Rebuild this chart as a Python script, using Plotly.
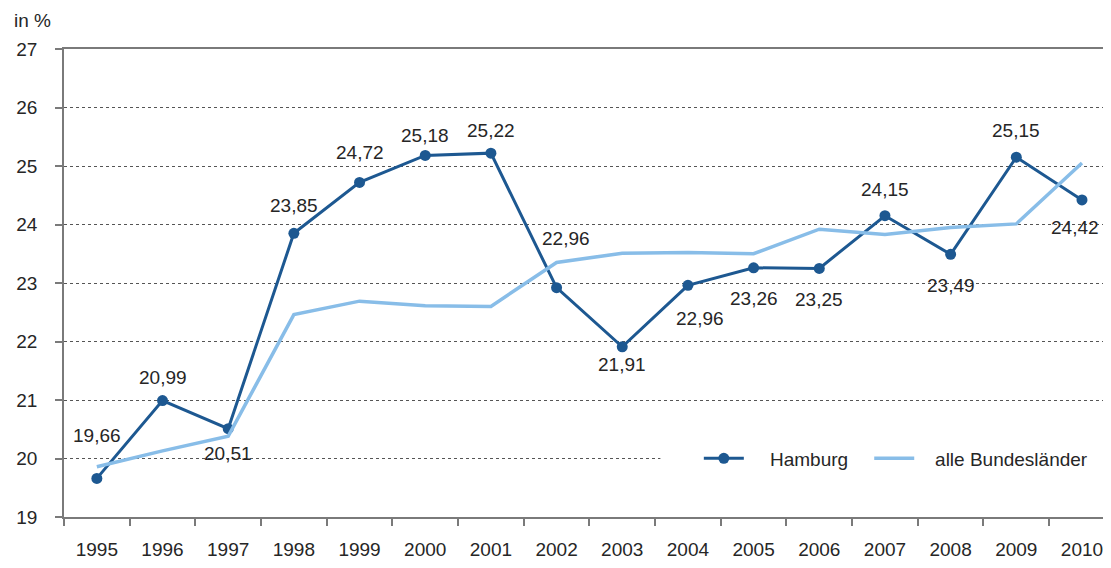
import plotly.graph_objects as go

years = ["1995", "1996", "1997", "1998", "1999", "2000", "2001", "2002",
         "2003", "2004", "2005", "2006", "2007", "2008", "2009", "2010"]
hamburg = [19.66, 20.99, 20.51, 23.85, 24.72, 25.18, 25.22, 22.92,
           21.91, 22.96, 23.26, 23.25, 24.15, 23.49, 25.15, 24.42]
hamburg_labels = ["19,66", "20,99", "20,51", "23,85", "24,72", "25,18", "25,22", "22,96",
                  "21,91", "22,96", "23,26", "23,25", "24,15", "23,49", "25,15", "24,42"]
alle = [19.86, 20.13, 20.38, 22.46, 22.69, 22.61, 22.60, 23.35,
        23.51, 23.52, 23.50, 23.92, 23.83, 23.95, 24.01, 25.05]
y_ticks = [19, 20, 21, 22, 23, 24, 25, 26, 27]

# label offsets in pixels (xshift, yshift)
offsets = [(0, 43), (0, 23), (0, -25), (0, 28), (0, 30), (0, 20), (0, 23), (9, 49),
           (0, -18), (12, -33), (0, -31), (0, -31), (0, 26), (0, -31), (0, 27), (-7, -28)]

DARK = "#1d5891"
LIGHT = "#88bde8"
TXT = "#262626"
FONT = "Liberation Sans, Arial, sans-serif"
FS = 19

fig = go.Figure()
fig.add_trace(go.Scatter(x=years, y=hamburg, name="\u00a0" * 4 + "Hamburg", mode="lines+markers",
                         line=dict(color=DARK, width=3), marker=dict(size=11, color=DARK),
                         legend="legend"))
fig.add_trace(go.Scatter(x=years, y=alle, name="\u00a0" * 3 + "alle Bundesländer", mode="lines",
                         line=dict(color=LIGHT, width=3.5), legend="legend2"))

for i, (v, t, (dx, dy)) in enumerate(zip(hamburg, hamburg_labels, offsets)):
    fig.add_annotation(x=i, y=v, text=t, showarrow=False, xshift=dx, yshift=dy,
                       font=dict(size=FS, color=TXT, family=FONT))

fig.add_annotation(x=0, y=1, xref="paper", yref="paper", xanchor="left", yanchor="middle",
                   xshift=-52, yshift=29, text="in %", showarrow=False,
                   font=dict(size=FS, color=TXT, family=FONT))

# white band behind the legend covering the gridline
fig.add_shape(type="rect", xref="paper", yref="y", x0=0.574, x1=1, y0=19.75, y1=20.25,
              fillcolor="white", line=dict(width=0), layer="above")

leg_common = dict(orientation="h", y=0.125, xanchor="left", yanchor="middle",
                  bgcolor="rgba(0,0,0,0)", font=dict(size=FS, color=TXT), itemwidth=40)

fig.update_layout(
    width=1095, height=552,
    margin=dict(l=56, r=0, t=41, b=39),
    paper_bgcolor="white", plot_bgcolor="white",
    font=dict(family=FONT, size=FS, color=TXT),
    showlegend=True,
    legend=dict(x=0.611, **leg_common),
    legend2=dict(x=0.775, **leg_common),
    xaxis=dict(type="category", range=[-0.5, 15.32], showgrid=False,
               showline=True, linecolor="#7a7a7a", linewidth=1.5, mirror=True,
               ticks="outside", tickson="boundaries", ticklen=7, tickcolor="#7a7a7a",
               tickwidth=1.5, ticklabelstandoff=14, tickfont=dict(size=FS, color=TXT)),
    yaxis=dict(range=[19, 27], tickvals=y_ticks, showgrid=True, gridcolor="#555555",
               griddash="dot", gridwidth=1, showline=True, linecolor="#7a7a7a", linewidth=1.5,
               ticks="outside", ticklen=7, tickcolor="#7a7a7a", tickwidth=1.5,
               ticklabelstandoff=14, tickfont=dict(size=FS, color=TXT), zeroline=False),
)

fig.write_html("out.html")
